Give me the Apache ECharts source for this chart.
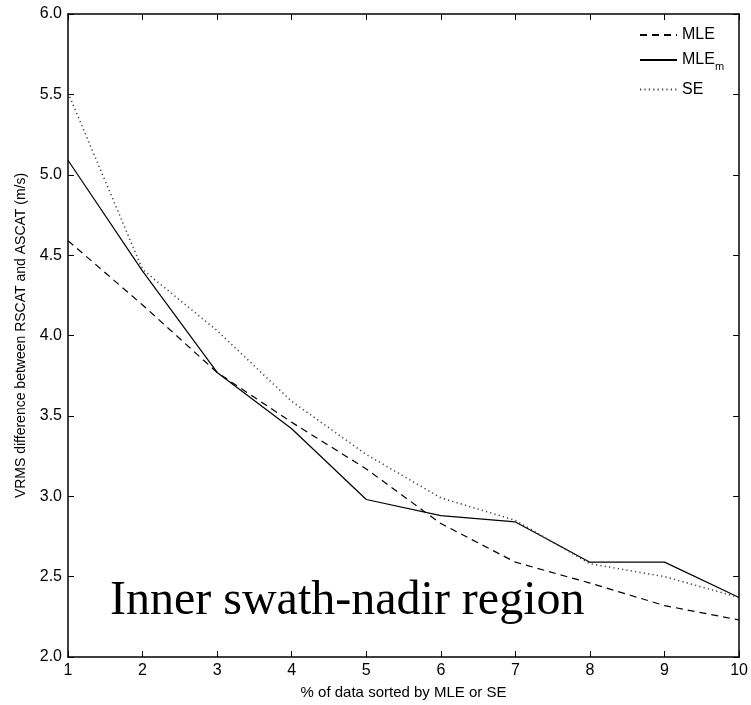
<!DOCTYPE html>
<html>
<head>
<meta charset="utf-8">
<script src="https://cdn.jsdelivr.net/npm/echarts@6/dist/echarts.min.js"></script>
<style>
  html, body { margin: 0; padding: 0; background: #fff; }
  #chart { width: 751px; height: 705px; }
</style>
</head>
<body>
<div id="chart"></div>
<script>
// percentage of data kept (x axis)
var pctData = [1, 2, 3, 4, 5, 6, 7, 8, 9, 10];
// VRMS difference (m/s) per method
var mleData  = [4.59, 4.19, 3.77, 3.46, 3.17, 2.83, 2.59, 2.46, 2.32, 2.23];
var mlemData = [5.09, 4.40, 3.77, 3.42, 2.98, 2.88, 2.84, 2.59, 2.59, 2.37];
var seData   = [5.51, 4.41, 4.03, 3.59, 3.26, 2.99, 2.85, 2.58, 2.50, 2.37];

function pairs(vals) {
  var out = [];
  for (var i = 0; i < pctData.length; i++) {
    out.push([pctData[i], vals[i]]);
  }
  return out;
}

var axisFont = { fontFamily: 'Liberation Sans', fontSize: 16, color: '#000' };

var myChart = echarts.init(document.getElementById('chart'));

var option = {
  animation: false,
  backgroundColor: '#fff',
  grid: { left: 68, right: 10, top: 14, bottom: 48 },
  legend: {
    orient: 'vertical',
    left: 634,
    top: 22,
    itemWidth: 37,
    itemHeight: 14,
    itemGap: 9,
    itemStyle: { opacity: 0 },
    textStyle: {
      fontFamily: 'Liberation Sans',
      fontSize: 16,
      color: '#000',
      rich: {
        a: { fontFamily: 'Liberation Sans', fontSize: 16, color: '#000' },
        sub: { fontFamily: 'Liberation Sans', fontSize: 11, color: '#000', padding: [14, 0, 0, 0] }
      }
    },
    formatter: function (name) {
      if (name === 'MLE_m') return '{a|MLE}{sub|m}';
      return name;
    },
    data: ['MLE', 'MLE_m', 'SE']
  },
  xAxis: [{
    type: 'value',
    min: 1,
    max: 10,
    interval: 1,
    name: '% of data sorted by MLE or SE',
    nameLocation: 'middle',
    nameGap: 28,
    nameTextStyle: { fontFamily: 'Liberation Sans', fontSize: 15, color: '#000' },
    axisLine: { lineStyle: { color: '#000', width: 1.5 } },
    axisTick: { inside: true, length: 6, lineStyle: { color: '#000' } },
    axisLabel: { margin: 6, fontFamily: axisFont.fontFamily, fontSize: axisFont.fontSize, color: axisFont.color },
    splitLine: { show: false }
  }, {
    type: 'value',
    position: 'top',
    min: 1,
    max: 10,
    interval: 1,
    axisLine: { lineStyle: { color: '#000', width: 1.5 } },
    axisTick: { inside: true, length: 6, lineStyle: { color: '#000' } },
    axisLabel: { show: false },
    splitLine: { show: false }
  }],
  yAxis: [{
    type: 'value',
    min: 2,
    max: 6,
    interval: 0.5,
    name: 'VRMS difference between RSCAT and ASCAT (m/s)',
    nameLocation: 'middle',
    nameGap: 40,
    nameTextStyle: { fontFamily: 'Liberation Sans', fontSize: 14, color: '#000' },
    axisLine: { lineStyle: { color: '#000', width: 1.5 } },
    axisTick: { inside: true, length: 6, lineStyle: { color: '#000' } },
    axisLabel: {
      margin: 6,
      fontFamily: axisFont.fontFamily, fontSize: axisFont.fontSize, color: axisFont.color,
      formatter: function (v) { return v.toFixed(1); }
    },
    splitLine: { show: false }
  }, {
    type: 'value',
    position: 'right',
    min: 2,
    max: 6,
    interval: 0.5,
    axisLine: { show: true, lineStyle: { color: '#000', width: 1.5 } },
    axisTick: { inside: true, length: 6, lineStyle: { color: '#000' } },
    axisLabel: { show: false },
    splitLine: { show: false }
  }],
  graphic: [{
    type: 'text',
    left: 110,
    top: 577,
    style: {
      text: 'Inner swath-nadir region',
      fontFamily: 'Liberation Serif',
      fontSize: 48,
      fill: '#000'
    }
  }],
  series: [{
    name: 'MLE',
    type: 'line',
    data: pairs(mleData),
    symbol: 'none',
    itemStyle: { color: '#000' },
    lineStyle: { color: '#000', width: 1.2, type: [7, 5] }
  }, {
    name: 'MLE_m',
    type: 'line',
    data: pairs(mlemData),
    symbol: 'none',
    itemStyle: { color: '#000' },
    lineStyle: { color: '#000', width: 1.2, type: 'solid' }
  }, {
    name: 'SE',
    type: 'line',
    data: pairs(seData),
    symbol: 'none',
    itemStyle: { color: '#444' },
    lineStyle: { color: '#444', width: 1.6, type: [1.2, 3.2] }
  }]
};

myChart.setOption(option);
</script>
</body>
</html>
